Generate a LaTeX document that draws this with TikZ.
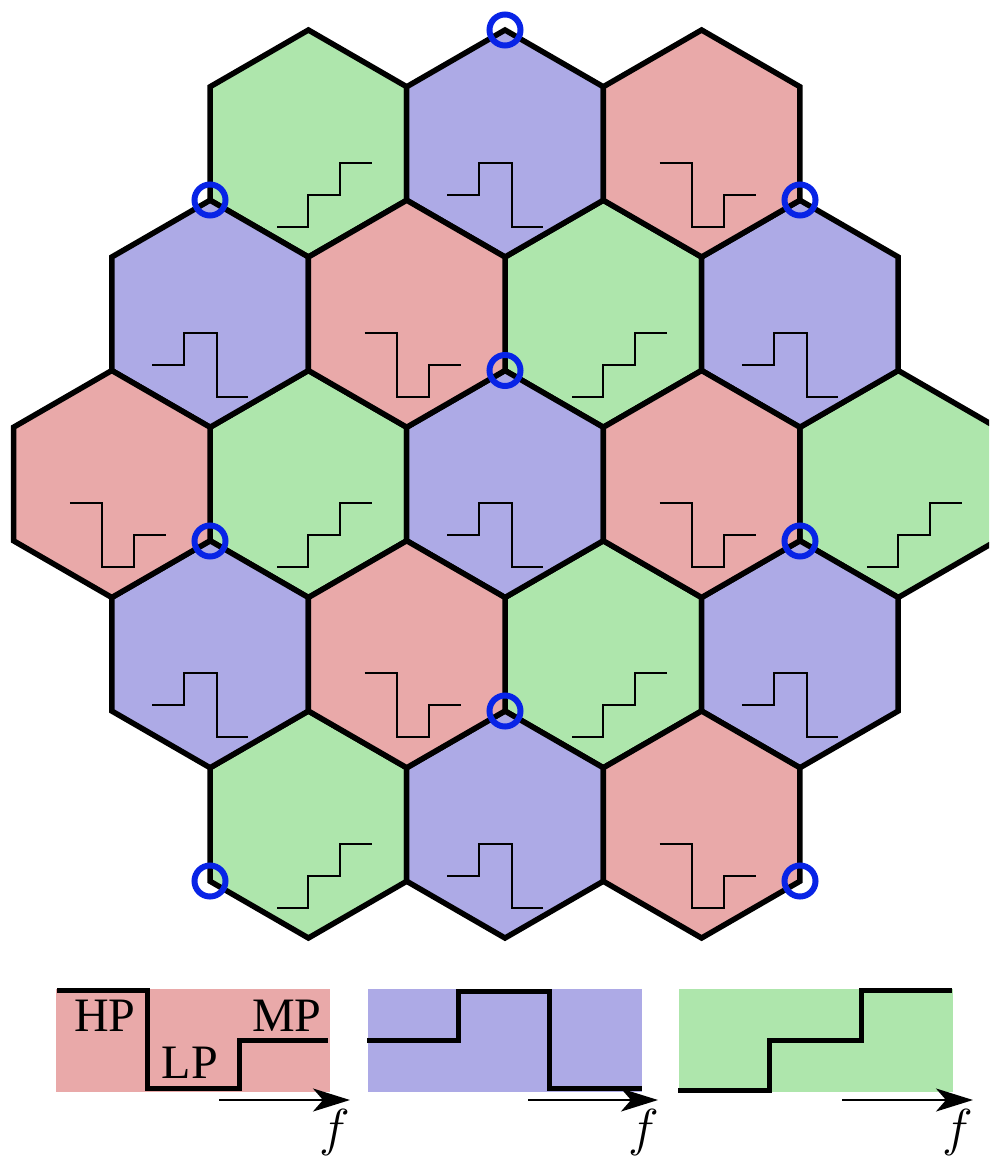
\RequirePackage{fix-cm}
\documentclass[tikz,border=0pt]{standalone}
\usepackage{fontspec}
\setmainfont{Liberation Serif}
\usetikzlibrary{arrows.meta}
\definecolor{cellred}{RGB}{233,169,169}
\definecolor{cellblue}{RGB}{173,170,230}
\definecolor{cellgreen}{RGB}{174,230,172}
\definecolor{siteblue}{RGB}{8,36,230}

\begin{document}
\begin{tikzpicture}[x=1pt, y=-1pt,
  cell/.style={draw=black, line width=5.5pt},
  sig/.style={line width=2pt},
  site/.style={circle, draw=siteblue, line width=6pt, minimum size=31pt, inner sep=0pt},
  band/.style={line width=5pt},
  faxis/.style={-{Stealth[length=37pt, width=23pt, inset=10pt]}, line width=2pt},
  lbl/.style={inner sep=0pt, font=\fontsize{48}{56}\selectfont},
  fl/.style={inner sep=0pt, font=\fontsize{52}{60}\selectfont}]
  \clip (0,0) rectangle (989,1159);

  % green cells
  \foreach \i/\j in {-2/-2, 1/-1, -2/0, 4/0, 1/1, -2/2} {
    \begin{scope}[shift={(\i*98.3+505, \j*170.25+484)}]
      \filldraw[cell, fill=cellgreen] (0,-113.5) -- (98.3,-56.75) -- (98.3,56.75) -- (0,113.5) -- (-98.3,56.75) -- (-98.3,-56.75) -- cycle;
      \draw[sig] (-31,83) -- (0,83) -- (0,51) -- (32,51) -- (32,19) -- (64,19);
    \end{scope}
  }
  % blue cells
  \foreach \i/\j in {0/-2, -3/-1, 3/-1, 0/0, -3/1, 3/1, 0/2} {
    \begin{scope}[shift={(\i*98.3+505, \j*170.25+484)}]
      \filldraw[cell, fill=cellblue] (0,-113.5) -- (98.3,-56.75) -- (98.3,56.75) -- (0,113.5) -- (-98.3,56.75) -- (-98.3,-56.75) -- cycle;
      \draw[sig] (-58,51) -- (-26,51) -- (-26,19) -- (7,19) -- (7,83) -- (38,83);
    \end{scope}
  }
  % red cells
  \foreach \i/\j in {2/-2, -1/-1, -4/0, 2/0, -1/1, 2/2} {
    \begin{scope}[shift={(\i*98.3+505, \j*170.25+484)}]
      \filldraw[cell, fill=cellred] (0,-113.5) -- (98.3,-56.75) -- (98.3,56.75) -- (0,113.5) -- (-98.3,56.75) -- (-98.3,-56.75) -- cycle;
      \draw[sig] (-42,19) -- (-10,19) -- (-10,83) -- (22,83) -- (22,51) -- (54,51);
    \end{scope}
  }

  % marked corners
  \foreach \sx/\sy [count=\k] in {505/30, 210/200, 800/200, 505/370.5, 210/541, 800/541, 505/711, 210/881, 800/881}
    \node[site] (s\k) at (\sx,\sy) {};

  % legend
  \fill[cellred] (56,989) rectangle (330,1092);
  \fill[cellblue] (368,989) rectangle (642,1092);
  \fill[cellgreen] (679,989) rectangle (953,1092);
  \draw[band] (57,990) -- (147,990) -- (147,1088) -- (239,1088) -- (239,1040) -- (328,1040);
  \draw[band] (367,1040) -- (458,1040) -- (458,991) -- (549,991) -- (549,1088) -- (642,1088);
  \draw[band] (678,1090) -- (769,1090) -- (769,1040) -- (861,1040) -- (861,990) -- (952,990);
  \node[lbl] (hp) at (105,1016) {HP};
  \node[lbl] (lp) at (190,1063) {LP};
  \node[lbl] (mp) at (287,1016) {MP};

  \coordinate (ra) at (219,1100);
  \coordinate (rb) at (350,1100);
  \coordinate (ba) at (528,1100);
  \coordinate (bb) at (658,1100);
  \coordinate (ga) at (842,1100);
  \coordinate (gb) at (973,1100);
  \draw[faxis] (ra) -- (rb);
  \draw[faxis] (ba) -- (bb);
  \draw[faxis] (ga) -- (gb);
  \node[fl] (rf) at (335,1132) {$f$};
  \node[fl] (bf) at (644,1132) {$f$};
  \node[fl] (gf) at (958,1132) {$f$};
\end{tikzpicture}
\end{document}
